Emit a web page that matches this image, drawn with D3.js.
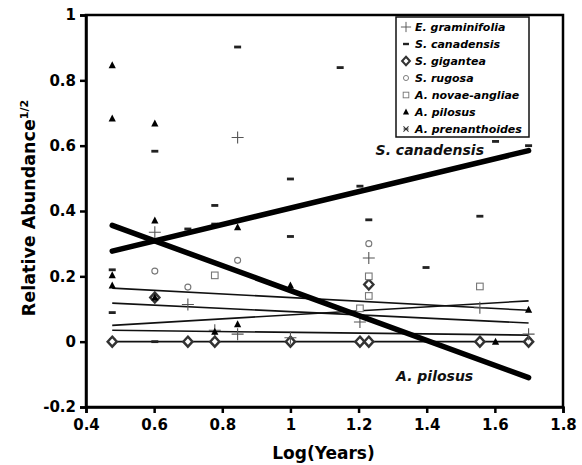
<!DOCTYPE html>
<html>
  <head>
    <meta charset="utf-8">
    <script src="https://d3js.org/d3.v7.min.js"></script>
    <style>
      body { margin: 0; background: #fff; }
      text { font-family: "DejaVu Sans", Verdana, sans-serif; }
    </style>
  </head>
  <body>
    <div id="chart"></div>
    <script>
      // log10 of years since abandonment, value = sqrt(relative abundance)
      const graminifolia = [
        [0.602, 0.335], [0.845, 0.625], [0.699, 0.114], [0.778, 0.035], [0.845, 0.023],
        [1.0, 0.012], [1.23, 0.256], [1.204, 0.06], [1.556, 0.104], [1.699, 0.023]
      ];
      const canadensis = [
        [0.477, 0.22], [0.477, 0.089], [0.602, 0.583], [0.602, 0], [0.699, 0.345],
        [0.778, 0.417], [0.778, 0.36], [0.845, 0.902], [1.0, 0.498], [1.0, 0.322],
        [1.146, 0.839], [1.204, 0.476], [1.23, 0.373], [1.398, 0.227], [1.556, 0.384],
        [1.602, 0.613], [1.699, 0.60]
      ];
      const gigantea = [
        [0.477, 0], [0.602, 0.135], [0.699, 0], [0.778, 0], [1.0, 0],
        [1.204, 0], [1.23, 0], [1.23, 0.175], [1.556, 0], [1.699, 0]
      ];
      const rugosa = [[0.602, 0.216], [0.699, 0.167], [0.845, 0.249], [1.23, 0.30]];
      const novaeAngliae = [
        [0.778, 0.203], [1.23, 0.20], [1.23, 0.14], [1.204, 0.102], [1.556, 0.169]
      ];
      const pilosus = [
        [0.477, 0.846], [0.477, 0.683], [0.477, 0.203], [0.477, 0.172], [0.602, 0.668],
        [0.602, 0.371], [0.602, 0.135], [0.778, 0.03], [0.845, 0.35], [0.845, 0.053],
        [1.0, 0.172], [1.602, 0], [1.699, 0.098]
      ];
      const prenanthoides = [[0.477, 0], [0.778, 0], [1.0, 0], [1.699, 0]];

      const speciesNames = [
        "E. graminifolia", "S. canadensis", "S. gigantea", "S. rugosa",
        "A. novae-angliae", "A. pilosus", "A. prenanthoides"
      ];
      const speciesData = [
        graminifolia, canadensis, gigantea, rugosa, novaeAngliae, pilosus, prenanthoides
      ];
      const speciesMarks = ["plus", "dash", "diamond", "circle", "square", "triangle", "cross"];

      // fitted lines: [x start, y start, x end, y end]
      const thinFits = [
        [0.477, 0.164, 1.699, 0.096],
        [0.477, 0.118, 1.699, 0.057],
        [0.477, 0.05, 1.699, 0.125],
        [0.477, 0.035, 1.699, 0.02],
        [0.477, 0, 1.699, 0]
      ];
      const thickFits = [
        [0.477, 0.277, 1.699, 0.585],
        [0.477, 0.356, 1.699, -0.11]
      ];
      const thickLabels = [["S. canadensis", 1.25, 0.57], ["A. pilosus", 1.31, -0.12]];

      const xTicks = [0.4, 0.6, 0.8, 1, 1.2, 1.4, 1.6, 1.8];
      const yTicks = [-0.2, 0, 0.2, 0.4, 0.6, 0.8, 1];

      const width = 582;
      const height = 465;
      const pLeft = 86, pRight = 563, pTop = 15, pBottom = 407;

      const x = d3.scaleLinear().domain([0.4, 1.8]).range([pLeft, pRight]);
      const y = d3.scaleLinear().domain([-0.2, 1]).range([pBottom, pTop]);

      const svg = d3
        .select("#chart")
        .append("svg")
        .attr("width", width)
        .attr("height", height);

      // frame
      svg.append("rect")
        .attr("x", pLeft).attr("y", pTop)
        .attr("width", pRight - pLeft).attr("height", pBottom - pTop)
        .attr("fill", "none").attr("stroke", "#000").attr("stroke-width", 2.5);

      // plain hyphen for negatives, like the original
      const fmt = (d) => {
        const s = d === 0 || d === 1 ? String(d) : Math.abs(d).toFixed(1);
        return d < 0 ? "-" + s : s;
      };

      const xAxis = svg.append("g")
        .attr("transform", `translate(0,${pBottom})`)
        .call(d3.axisBottom(x).tickValues(xTicks).tickSize(6).tickPadding(6).tickFormat(fmt));
      const yAxis = svg.append("g")
        .attr("transform", `translate(${pLeft},0)`)
        .call(d3.axisLeft(y).tickValues(yTicks).tickSize(6).tickPadding(4).tickFormat(fmt));

      [xAxis, yAxis].forEach((g) => {
        g.select(".domain").attr("stroke-width", 2.5);
        g.selectAll(".tick line").attr("stroke-width", 2.5);
        g.selectAll("text")
          .attr("font-family", "DejaVu Sans")
          .attr("font-weight", "bold")
          .attr("font-size", 15)
          .attr("fill", "#000");
      });

      svg.append("text")
        .attr("x", (pLeft + pRight) / 2 - 1)
        .attr("y", 459)
        .attr("text-anchor", "middle")
        .attr("font-weight", "bold")
        .attr("font-size", 17)
        .text("Log(Years)");

      const ylab = svg.append("text")
        .attr("transform", `translate(35,208) rotate(-90)`)
        .attr("text-anchor", "middle")
        .attr("font-weight", "bold")
        .attr("font-size", 17.5);
      ylab.append("tspan").text("Relative Abundance");
      ylab.append("tspan").attr("font-size", 11).attr("dy", -7).text("1/2");

      // fitted lines
      svg.selectAll(".thin")
        .data(thinFits)
        .enter()
        .append("line")
        .attr("x1", (d) => x(d[0])).attr("y1", (d) => y(d[1]))
        .attr("x2", (d) => x(d[2])).attr("y2", (d) => y(d[3]))
        .attr("stroke", "#111").attr("stroke-width", 1.6);

      // marker drawing
      function drawMark(g, kind) {
        if (kind === "plus") {
          g.append("path").attr("d", "M-6,0H6M0,-6V6")
            .attr("stroke", "#555").attr("stroke-width", 1.1).attr("fill", "none");
        } else if (kind === "dash") {
          g.append("rect").attr("x", -3.5).attr("y", -1.4).attr("width", 7).attr("height", 2.8)
            .attr("fill", "#222");
        } else if (kind === "diamond") {
          g.append("path").attr("d", "M0,-5L4.6,0L0,5L-4.6,0Z")
            .attr("stroke", "#333").attr("stroke-width", 2.4).attr("fill", "#fff");
        } else if (kind === "circle") {
          g.append("circle").attr("r", 3)
            .attr("stroke", "#777").attr("stroke-width", 1.1).attr("fill", "#fff");
        } else if (kind === "square") {
          g.append("rect").attr("x", -3.3).attr("y", -3.3).attr("width", 6.6).attr("height", 6.6)
            .attr("stroke", "#777").attr("stroke-width", 1.1).attr("fill", "#fff");
        } else if (kind === "triangle") {
          g.append("path").attr("d", "M0,-4L3.6,3L-3.6,3Z").attr("fill", "#000");
        } else if (kind === "cross") {
          g.append("path").attr("d", "M-3,-3L3,3M-3,3L3,-3M-3,0H3")
            .attr("stroke", "#333").attr("stroke-width", 1.2).attr("fill", "none");
        }
      }

      const drawOrder = [6, 2, 4, 3, 0, 5, 1];
      drawOrder.forEach((i) => {
        svg.append("g")
          .selectAll("g")
          .data(speciesData[i])
          .enter()
          .append("g")
          .attr("transform", (d) => `translate(${x(d[0])},${y(d[1])})`)
          .each(function () { drawMark(d3.select(this), speciesMarks[i]); });
      });

      svg.selectAll(".thick")
        .data(thickFits)
        .enter()
        .append("line")
        .attr("x1", (d) => x(d[0])).attr("y1", (d) => y(d[1]))
        .attr("x2", (d) => x(d[2])).attr("y2", (d) => y(d[3]))
        .attr("stroke", "#000").attr("stroke-width", 5.5).attr("stroke-linecap", "round");

      svg.selectAll(".fitlabel")
        .data(thickLabels)
        .enter()
        .append("text")
        .attr("x", (d) => x(d[1])).attr("y", (d) => y(d[2]))
        .attr("font-style", "italic")
        .attr("font-size", 14)
        .attr("font-weight", 600)
        .attr("fill", "#111")
        .text((d) => d[0]);

      // legend
      const legend = svg.append("g").attr("transform", "translate(396,17)");
      legend.append("rect")
        .attr("width", 133).attr("height", 120)
        .attr("fill", "#fff").attr("stroke", "#111").attr("stroke-width", 1.5);
      const rows = legend.selectAll(".row")
        .data(speciesNames)
        .enter()
        .append("g")
        .attr("transform", (d, i) => `translate(0,${10 + i * 17})`);
      rows.each(function (d, i) {
        const m = d3.select(this).append("g").attr("transform", "translate(10,0) scale(0.85)");
        drawMark(m, speciesMarks[i]);
      });
      rows.append("text")
        .attr("x", 19).attr("y", 4)
        .attr("font-style", "italic")
        .attr("font-weight", "bold")
        .attr("font-size", 11)
        .text((d) => d);
    </script>
  </body>
</html>
